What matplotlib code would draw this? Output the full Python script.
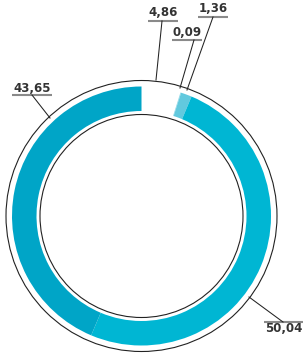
import matplotlib
matplotlib.use("Agg")
import matplotlib.pyplot as plt
from matplotlib.patches import Circle

labels = ["4,86", "0,09", "1,36", "50,04", "43,65"]
values = [4.86, 0.09, 1.36, 50.04, 43.65]
colors = ["#ffffff", "#8fd9e8", "#62c9de", "#00b6d3", "#00a5c7"]

W, H = 303, 357
fig = plt.figure(figsize=(W / 100, H / 100), dpi=100)
ax = fig.add_axes([0, 0, 1, 1])

def Y(y):
    return H - y

cx, cy = 141.5, Y(216)
ax.pie(values, colors=colors, startangle=90, counterclock=False,
       center=(cx, cy), radius=129.5,
       wedgeprops=dict(width=24.5, linewidth=0, edgecolor="none"))
for r in (135.5, 101.5):
    ax.add_patch(Circle((cx, cy), r, fill=False, edgecolor="#222222", lw=0.8))

# label layout: (text centre x, text y, line x0, line x1, line y, leader end x, leader end y, leader start x)
layout = {
    "4,86": (163, 13, 148, 178, 21, 156, 80, 162),
    "0,09": (187, 32, 172, 202, 40, 180, 88, 194),
    "1,36": (213, 9, 198, 228, 17, 187, 90, 213),
    "43,65": (32, 88, 12, 52, 95, 50, 118, 32),
    "50,04": (284, 329, 264, 303, 322, 249, 297, 283),
}
for lab in labels:
    tx, ty, lx0, lx1, ly, ex, ey, sx = layout[lab]
    ax.text(tx, Y(ty), lab, ha="center", va="center", fontsize=8.5,
            fontweight="bold", color="#333333", family="DejaVu Sans")
    ax.plot([lx0, lx1], [Y(ly), Y(ly)], color="#8a8a8a", lw=1.5,
            solid_capstyle="butt")
    ax.plot([sx, ex], [Y(ly), Y(ey)], color="#222222", lw=0.75)

ax.set_xlim(0, W)
ax.set_ylim(0, H)
ax.set_aspect("auto")
ax.axis("off")
fig.savefig("out.png", dpi=100)
